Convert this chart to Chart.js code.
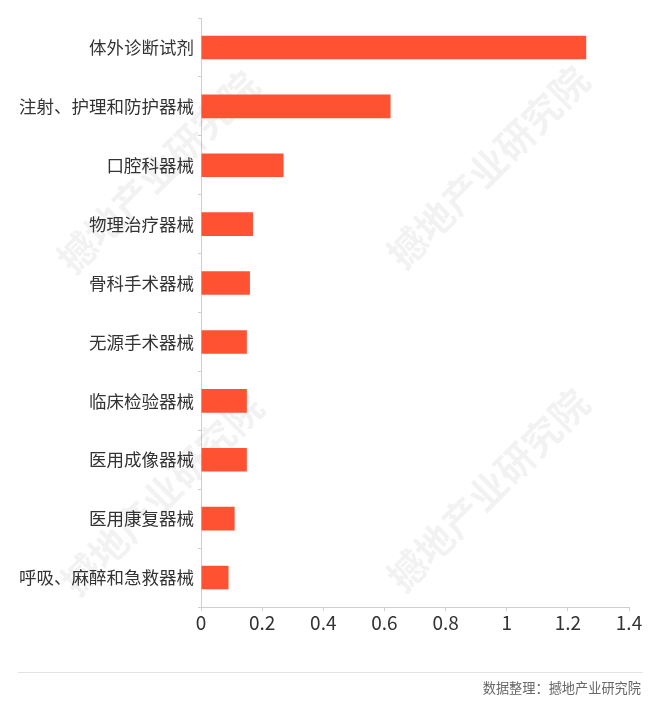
<!DOCTYPE html>
<html>
<head>
<meta charset="utf-8">
<script src="https://cdn.jsdelivr.net/npm/chart.js@4.4.1/dist/chart.umd.min.js"></script>
<style>
  html, body { margin: 0; padding: 0; background: #fff; }
  #wrap { position: relative; width: 660px; height: 721px; }
  #c { position: absolute; left: 0; top: 0; }
  #footline { position: absolute; left: 18px; top: 672px; width: 625px; height: 0; border-top: 1px solid #e3e3e3; }
  #foot { position: absolute; right: 19px; top: 679px; font: 13.2px "Noto Sans CJK SC", sans-serif; color: #666; line-height: 18px; }
</style>
</head>
<body>
<div id="wrap">
  <canvas id="c" width="660" height="721"></canvas>
  <div id="footline"></div>
  <div id="foot">数据整理：撼地产业研究院</div>
</div>
<script>
const categories = ["体外诊断试剂", "注射、护理和防护器械", "口腔科器械", "物理治疗器械", "骨科手术器械", "无源手术器械", "临床检验器械", "医用成像器械", "医用康复器械", "呼吸、麻醉和急救器械"];
const values = [1.26, 0.62, 0.27, 0.17, 0.16, 0.15, 0.15, 0.15, 0.11, 0.09];
const xTicks = [0, 0.2, 0.4, 0.6, 0.8, 1, 1.2, 1.4];
const watermarkText = "撼地产业研究院";

const FONT = '"Noto Sans CJK SC", "Noto Sans", sans-serif';

const watermarkPlugin = {
  id: 'watermark',
  beforeDatasetsDraw(chart) {
    const ctx = chart.ctx;
    const centers = [[158, 172], [488, 167], [162, 494], [488, 490]];
    ctx.save();
    ctx.font = 'bold 38px ' + FONT;
    ctx.fillStyle = 'rgba(0,0,0,0.05)';
    ctx.textAlign = 'center';
    ctx.textBaseline = 'middle';
    centers.forEach(([x, y]) => {
      ctx.save();
      ctx.translate(x, y);
      ctx.rotate(-Math.PI / 4);
      ctx.fillText(watermarkText, 0, 0);
      ctx.restore();
    });
    ctx.restore();
  }
};

new Chart(document.getElementById('c'), {
  type: 'bar',
  data: {
    labels: categories,
    datasets: [{
      data: values,
      backgroundColor: '#FF5232',
      borderWidth: 0,
      barPercentage: 0.4,
      categoryPercentage: 1.0
    }]
  },
  options: {
    indexAxis: 'y',
    responsive: false,
    animation: false,
    devicePixelRatio: 1,
    layout: { padding: { top: 18, right: 31, bottom: 74, left: 0 } },
    plugins: { legend: { display: false }, tooltip: { enabled: false } },
    scales: {
      x: {
        min: 0, max: 1.4,
        afterBuildTicks(scale) { scale.ticks = xTicks.map(v => ({ value: v })); },
        afterFit(scale) { scale.height = 40; },
        border: { display: true, color: '#cfcfcf', width: 1 },
        grid: { display: true, drawOnChartArea: false, drawTicks: true, tickLength: 4, color: '#cfcfcf' },
        ticks: {
          padding: 0,
          color: '#333',
          font: { family: FONT, size: 19 },
          callback: (v) => String(v),
          maxRotation: 0
        }
      },
      y: {
        afterFit(scale) { scale.width = 201; },
        border: { display: true, color: '#cfcfcf', width: 1 },
        grid: { display: true, drawOnChartArea: false, drawTicks: true, tickLength: 3, color: '#cfcfcf' },
        ticks: {
          padding: 4,
          color: '#333',
          font: { family: FONT, size: 17.5 }
        }
      }
    }
  },
  plugins: [watermarkPlugin]
});
</script>
</body>
</html>
